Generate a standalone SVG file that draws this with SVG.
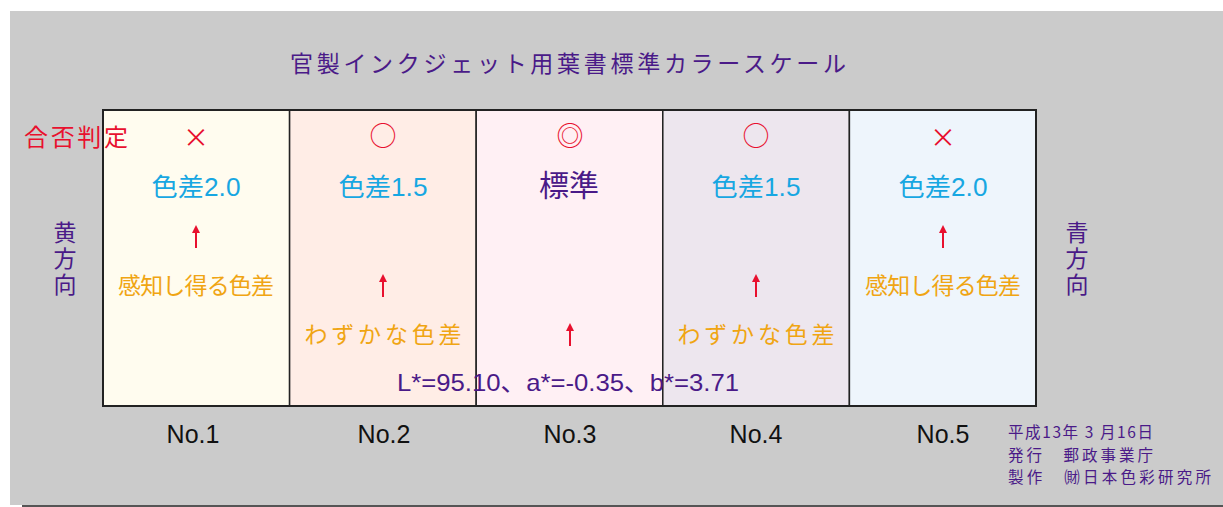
<svg xmlns="http://www.w3.org/2000/svg" width="1223" height="507" viewBox="0 0 1223 507">
<style>
text{font-family:"Liberation Sans","Noto Sans CJK JP",sans-serif;text-anchor:middle}
.jp{font-family:"Noto Sans CJK JP",sans-serif}
.title{fill:#4a1a88;font-size:23px}
.red{fill:#e8102e}
.cyan{fill:#17a7e2;font-size:25px}
.org{fill:#f0a513;font-size:23px}
.pur{fill:#4a1a88}
.num{fill:#111;font-size:25px}
.cell{stroke:#222;stroke-width:1.5}
.arr{stroke:#e8102e;stroke-width:2;fill:none}
.foot{fill:#4a1a88;font-size:15.5px;text-anchor:start}
.vert{fill:#4a1a88;font-size:23px;writing-mode:vertical-rl;letter-spacing:3px}
</style>
<defs>
<marker id="ah" viewBox="0 0 8 8" refX="4" refY="4" markerWidth="8" markerHeight="8" markerUnits="userSpaceOnUse" orient="auto">
<path d="M0,0 L8,4 L0,8 z" fill="#e8102e"/>
</marker>
</defs>
<rect x="10" y="11" width="1213" height="494" fill="#cbcbcb"/>
<rect x="22" y="505" width="1201" height="2" fill="#555"/>
<text class="title jp" x="568" y="72" textLength="556" lengthAdjust="spacing">官製インクジェット用葉書標準カラースケール</text>
<g id="cell1">
<rect class="cell" x="103" y="110" width="186.6" height="296" fill="#fffcef"/>
<text class="red jp" x="196" y="147" font-size="26">×</text>
<text class="cyan" x="196" y="196" textLength="89" lengthAdjust="spacingAndGlyphs">色差2.0</text>
<text class="org jp" x="196" y="294" textLength="156" lengthAdjust="spacing">感知し得る色差</text>
<text class="num" x="193" y="443">No.1</text>
</g>
<g id="cell2">
<rect class="cell" x="289.6" y="110" width="186.6" height="296" fill="#ffede6"/>
<text class="red jp" x="383" y="146" font-size="27">○</text>
<text class="cyan" x="383" y="196" textLength="89" lengthAdjust="spacingAndGlyphs">色差1.5</text>
<text class="org jp" x="383" y="343" textLength="157" lengthAdjust="spacing">わずかな色差</text>
<text class="num" x="384" y="443">No.2</text>
</g>
<g id="cell3">
<rect class="cell" x="476.2" y="110" width="186.6" height="296" fill="#fff0f4"/>
<text class="red jp" x="570" y="146" font-size="27">◎</text>
<text class="pur jp" x="569" y="196" font-size="30">標準</text>
<text class="num" x="570" y="443">No.3</text>
</g>
<g id="cell4">
<rect class="cell" x="662.8" y="110" width="186.6" height="296" fill="#ede6ee"/>
<text class="red jp" x="756" y="146" font-size="27">○</text>
<text class="cyan" x="756" y="196" textLength="89" lengthAdjust="spacingAndGlyphs">色差1.5</text>
<text class="org jp" x="756" y="343" textLength="157" lengthAdjust="spacing">わずかな色差</text>
<text class="num" x="756" y="443">No.4</text>
</g>
<g id="cell5">
<rect class="cell" x="849.4" y="110" width="186.6" height="296" fill="#eef5fc"/>
<text class="red jp" x="943" y="147" font-size="26">×</text>
<text class="cyan" x="943" y="196" textLength="89" lengthAdjust="spacingAndGlyphs">色差2.0</text>
<text class="org jp" x="943" y="294" textLength="156" lengthAdjust="spacing">感知し得る色差</text>
<text class="num" x="943" y="443">No.5</text>
</g>
<rect x="103" y="110" width="933" height="296" fill="none" stroke="#222" stroke-width="2"/>
<text class="red jp" x="76" y="146" font-size="24" textLength="104" lengthAdjust="spacing">合否判定</text>
<g id="connectors">
<line class="arr" x1="196" y1="248" x2="196" y2="229" marker-end="url(#ah)"/>
<line class="arr" x1="383" y1="297" x2="383" y2="278" marker-end="url(#ah)"/>
<line class="arr" x1="570" y1="346" x2="570" y2="327" marker-end="url(#ah)"/>
<line class="arr" x1="756" y1="297" x2="756" y2="278" marker-end="url(#ah)"/>
<line class="arr" x1="943" y1="248" x2="943" y2="229" marker-end="url(#ah)"/>
</g>
<g id="yellow-dir">
<text class="vert jp" x="65" y="221" style="text-anchor:start">黄方向</text>
</g>
<g id="blue-dir">
<text class="vert jp" x="1077" y="221" style="text-anchor:start">青方向</text>
</g>
<text class="pur" x="568" y="391" font-size="24" textLength="342" lengthAdjust="spacingAndGlyphs">L*=95.10、a*=-0.35、b*=3.71</text>
<g id="footer">
<text class="foot jp" x="1008" y="438" textLength="145" lengthAdjust="spacing">平成13年 3 月16日</text>
<text class="foot jp" x="1008" y="460.5" textLength="145" lengthAdjust="spacing">発行　郵政事業庁</text>
<text class="foot jp" x="1008" y="483" textLength="203" lengthAdjust="spacing">製作　㈶日本色彩研究所</text>
</g>
</svg>
